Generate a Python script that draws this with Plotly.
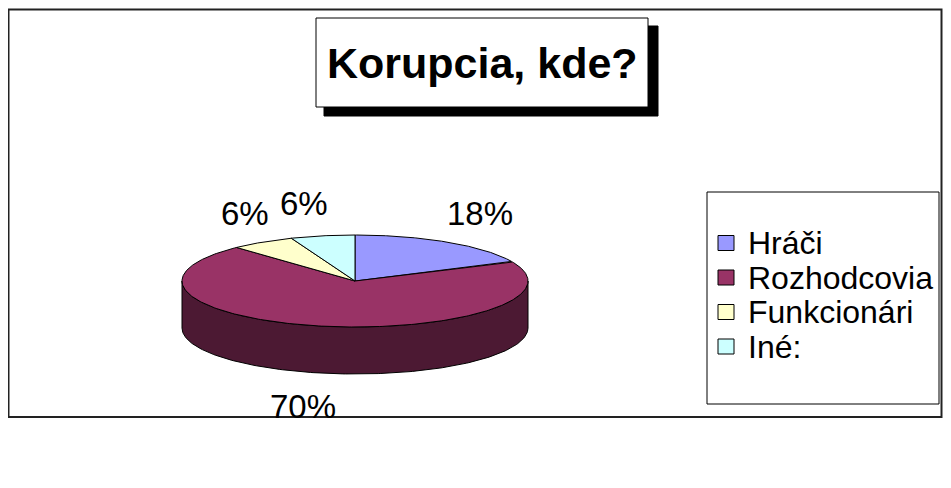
import numpy as np
import plotly.graph_objects as go

# ---- data ----
categories = ["Hráči", "Rozhodcovia", "Funkcionári", "Iné:"]
values = [18, 70, 6, 6]
colors = ["#9999FF", "#993366", "#FFFFCC", "#CCFFFF"]
title_text = "Korupcia, kde?"

# ---- geometry / style (pixel space of the page) ----
W, H = 951, 488
OFF = 8                # default page body margin
cx, cy = 355, 281
ra, rb = 173, 46       # ellipse semi-axes of the top face
depth = 47
la, lb = 233, 80       # label ellipse
label_nudge_x = [0, -8, 15, -7]
label_nudge_y = [0, 0, 0, 1]
FONT = "Liberation Sans, Arial, sans-serif"


def darken(hex_color, f=0.5):
    h = hex_color.lstrip("#")
    r, g, b = (int(h[i:i + 2], 16) for i in (0, 2, 4))
    return "#%02X%02X%02X" % (int(r * f), int(g * f), int(b * f))


def pt(theta_deg, dy=0.0, a=ra, b=rb):
    t = np.radians(theta_deg)
    return cx + a * np.sin(t), cy - b * np.cos(t) + dy


fig = go.Figure()

total = float(sum(values))
bounds = []
acc = 0.0
for v in values:
    s = acc / total * 360.0
    acc += v
    e = acc / total * 360.0
    bounds.append((s, e))

# side walls (front half: 90..270 degrees)
for (s, e), col in zip(bounds, colors):
    s2, e2 = max(s, 90.0), min(e, 270.0)
    if e2 <= s2:
        continue
    th = np.linspace(s2, e2, 200)
    xt, yt = pt(th)
    xb, yb = pt(th[::-1], depth)
    xs = np.concatenate([xt, xb, xt[:1]])
    ys = np.concatenate([yt, yb, yt[:1]])
    fig.add_trace(go.Scatter(x=xs, y=ys, mode="lines", fill="toself",
                             fillcolor=darken(col, 0.5),
                             line=dict(color="black", width=1),
                             hoverinfo="skip", showlegend=False))

# top faces
for (s, e), col, name in zip(bounds, colors, categories):
    th = np.linspace(s, e, 300)
    xa, ya = pt(th)
    xs = np.concatenate([[cx], xa, [cx]])
    ys = np.concatenate([[cy], ya, [cy]])
    fig.add_trace(go.Scatter(x=xs, y=ys, mode="lines", fill="toself",
                             fillcolor=col,
                             line=dict(color="black", width=1),
                             name=name, hoverinfo="skip", showlegend=False))

annotations = []
# percentage labels
for i, ((s, e), v) in enumerate(zip(bounds, values)):
    m = (s + e) / 2.0
    front = np.cos(np.radians(m)) < 0
    x, y = pt(m, depth if front else 0, la, lb)
    annotations.append(dict(x=x + label_nudge_x[i], y=y + label_nudge_y[i],
                            xref="x", yref="y",
                            text="%d%%" % round(v / total * 100),
                            showarrow=False, xanchor="center", yanchor="middle",
                            font=dict(family=FONT, size=33, color="black")))

shapes = []
# outer chart border
shapes.append(dict(type="rect", xref="x", yref="y", x0=8.5, y0=9.5, x1=941.5, y1=417,
                   line=dict(color="#222222", width=2), fillcolor="rgba(0,0,0,0)",
                   layer="below"))
# title box with shadow
shapes.append(dict(type="rect", xref="x", yref="y", x0=324, y0=26, x1=658, y1=116,
                   line=dict(color="black", width=1), fillcolor="black"))
shapes.append(dict(type="rect", xref="x", yref="y", x0=316, y0=18, x1=648, y1=107,
                   line=dict(color="black", width=1), fillcolor="white"))
annotations.append(dict(x=482, y=63, xref="x", yref="y",
                        text="<b>%s</b>" % title_text, showarrow=False,
                        xanchor="center", yanchor="middle",
                        font=dict(family=FONT, size=43, color="black")))

# legend
LX = 707
shapes.append(dict(type="rect", xref="x", yref="y", x0=LX, y0=192, x1=LX + 232, y1=404,
                   line=dict(color="black", width=1), fillcolor="white"))
leg_y0, leg_dy = 243, 34.5
for i, (name, col) in enumerate(zip(categories, colors)):
    yy = leg_y0 + i * leg_dy
    shapes.append(dict(type="rect", xref="x", yref="y", x0=LX + 11, y0=yy - 7.5,
                       x1=LX + 27, y1=yy + 7.5, line=dict(color="black", width=1),
                       fillcolor=col))
    annotations.append(dict(x=LX + 39, y=yy, xref="x", yref="y", text=name,
                            showarrow=False, xanchor="left", yanchor="middle",
                            font=dict(family=FONT, size=32, color="black")))

PW = W - 2 * OFF
PH = H - 2 * OFF
fig.update_layout(
    width=PW, height=PH, autosize=False,
    margin=dict(l=0, r=0, t=0, b=0),
    paper_bgcolor="white", plot_bgcolor="white",
    xaxis=dict(range=[OFF, OFF + PW], visible=False, fixedrange=True),
    yaxis=dict(range=[OFF + PH, OFF], visible=False, fixedrange=True),
    shapes=shapes, annotations=annotations, showlegend=False,
)

fig.write_html("out.html")
